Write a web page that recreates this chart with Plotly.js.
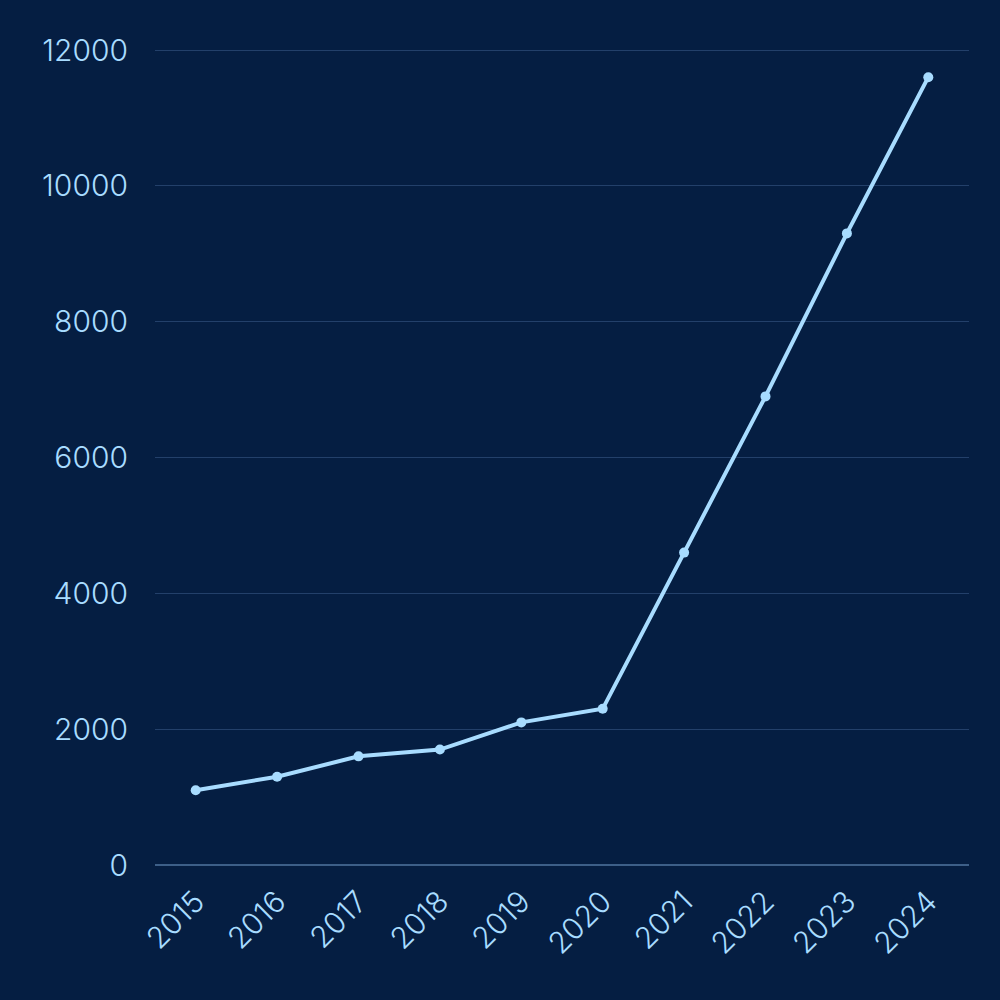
<!DOCTYPE html>
<html>
<head>
<meta charset="utf-8">
<script src="https://cdn.plot.ly/plotly-3.0.1.min.js"></script>
<style>html,body{margin:0;padding:0;background:#051e42;}#chart{width:1000px;height:1000px;}</style>
</head>
<body>
<div id="chart"></div>
<script>
const years = ["2015","2016","2017","2018","2019","2020","2021","2022","2023","2024"];
const values = [1100, 1300, 1600, 1700, 2100, 2300, 4600, 6900, 9300, 11600];
const yTicks = [0, 2000, 4000, 6000, 8000, 10000, 12000];

const textColor = "#a8dcff";
Plotly.newPlot("chart", [{
  x: years,
  y: values,
  type: "scatter",
  mode: "lines+markers",
  line: {color: "#a8dcff", width: 4},
  marker: {color: "#a8dcff", size: 10},
  hoverinfo: "skip"
}], {
  width: 1000, height: 1000,
  paper_bgcolor: "#051e42",
  plot_bgcolor: "#051e42",
  margin: {l: 155, r: 31, t: 48, b: 135},
  showlegend: false,
  font: {family: "Inter, 'Noto Sans', sans-serif", color: textColor, size: 30, weight: 300},
  xaxis: {
    type: "category",
    range: [-0.5, 9.5],
    tickangle: -45,
    showgrid: false,
    zeroline: false,
    showline: false,
    ticks: "",
    tickfont: {size: 30, color: textColor, weight: 300},
    ticklabelstandoff: 12
  },
  yaxis: {
    range: [0, 12030],
    tickvals: yTicks,
    ticktext: yTicks.map(String),
    showgrid: true,
    gridcolor: "#23406a",
    gridwidth: 1,
    zeroline: true,
    zerolinecolor: "#3d5f88",
    zerolinewidth: 2,
    showline: false,
    ticks: "",
    tickfont: {size: 30, color: textColor, weight: 300},
    ticklabelstandoff: 26
  }
}, {displayModeBar: false, staticPlot: true});
</script>
</body>
</html>
